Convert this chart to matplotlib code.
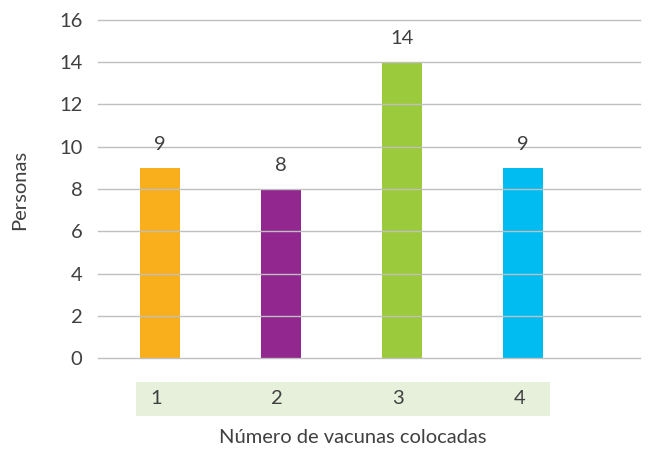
import matplotlib
matplotlib.use("Agg")
import matplotlib.pyplot as plt
from matplotlib.patches import Rectangle

# datos
categorias = ["1", "2", "3", "4"]
personas = [9, 8, 14, 9]
colores = ["#F9AE1B", "#92278F", "#9BCA3C", "#00BCF1"]
yticks = [0, 2, 4, 6, 8, 10, 12, 14, 16]

plt.rcParams["font.family"] = ["Lato", "DejaVu Sans"]
texto = "#404040"
gris = "#BFBFBF"
fs = 14.5

fig = plt.figure(figsize=(6.48, 4.5), dpi=100)
ax = fig.add_axes([0.151, 0.2044, 0.837, 0.7512])

x = list(range(len(categorias)))
ax.bar(x, personas, width=0.33, color=colores, zorder=1)

for xi, v in zip(x, personas):
    ax.annotate(str(v), (xi, v), xytext=(0, 17), textcoords="offset points",
                ha="center", va="center", fontsize=fs, color=texto)

ax.set_xlim(-0.51, 3.97)
ax.set_ylim(0, 16)
ax.set_yticks(yticks)
ax.tick_params(axis="y", length=0, pad=11, labelsize=fs, labelcolor=texto)
ax.set_xticks([])
ax.grid(axis="y", color=gris, linewidth=1.0)
for gl in ax.get_ygridlines():
    gl.set_clip_on(False)
ax.set_axisbelow(False)
for s in ax.spines.values():
    s.set_visible(False)

# banda verde con las categorías
trans = ax.get_xaxis_transform()
ax.add_patch(Rectangle((-0.198, -0.1716), 3.421, 0.1006, transform=trans,
                       facecolor="#E7F0DB", edgecolor="none", clip_on=False))
for xi, c in zip(x, categorias):
    ax.text(xi - 0.03, -0.121, c, transform=trans, ha="center", va="center",
            fontsize=fs, color=texto)

ax.set_ylabel("Personas", fontsize=fs, color=texto)
ax.yaxis.set_label_coords(-0.128, 0.497)
fig.text(0.545, 0.027, "Número de vacunas colocadas", ha="center",
         va="center", fontsize=fs, color=texto)

fig.savefig("out.png", dpi=100)
